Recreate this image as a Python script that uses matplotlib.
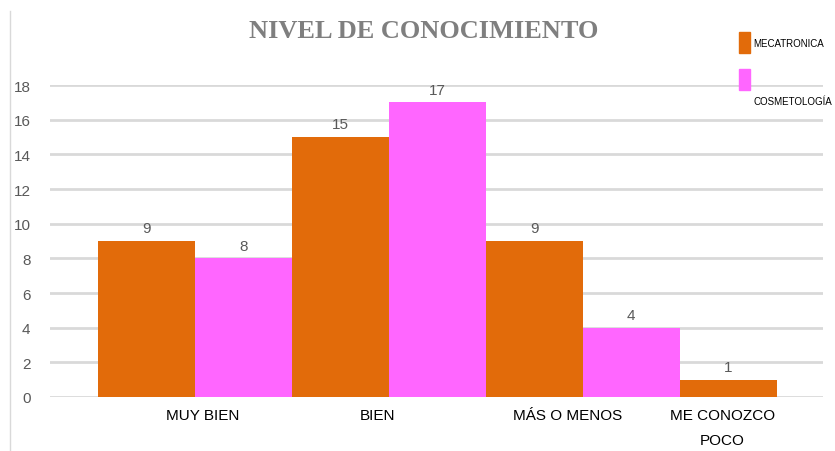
import numpy as np
import matplotlib
matplotlib.use("Agg")
import matplotlib.pyplot as plt
from matplotlib.patches import Rectangle
from matplotlib.lines import Line2D

categories = ["MUY BIEN", "BIEN", "MÁS O MENOS", "ME CONOZCO\nPOCO"]
mecatronica = [9, 15, 9, 1]
cosmetologia = [8, 17, 4, 0]
series_names = ["MECATRONICA", "COSMETOLOGÍA"]
yticks = list(range(0, 19, 2))

orange = "#E26B0A"
pink = "#FF66FF"
txt = "#595959"
font = ["Liberation Sans Narrow", "Liberation Sans", "DejaVu Sans"]

fig = plt.figure(figsize=(8.35, 4.52), dpi=100)
ax = fig.add_axes([50/835, (452-398)/452, (823-50)/835, (398-86)/452])

x = np.arange(len(categories))
w = 0.5
b1 = ax.bar(x - w/2, mecatronica, w, color=orange, zorder=3)
b2 = ax.bar(x + w/2, cosmetologia, w, color=pink, zorder=3)

for bars, vals in ((b1, mecatronica), (b2, cosmetologia)):
    for r, v in zip(bars, vals):
        if v > 0:
            ax.annotate(str(v), (r.get_x() + r.get_width()/2, v), xytext=(0, 4),
                        textcoords="offset points", ha="center", va="bottom",
                        fontsize=11, color=txt, family=font)

ax.set_xlim(-0.75, 3.24)
ax.set_ylim(0, 18)
ax.set_yticks(yticks)
ax.yaxis.grid(True, color="#D9D9D9", linewidth=2, zorder=0)
ax.set_axisbelow(True)
for s in ax.spines.values():
    s.set_visible(False)
ax.tick_params(axis="both", length=0, labelsize=11, labelcolor=txt, pad=14)
for lab in ax.get_yticklabels():
    lab.set_family(font)

offsets = [0.04, -0.06, -0.08, -0.28]
ax.set_xticks(x + np.array(offsets))
ax.set_xticklabels(categories, family=font, fontsize=11, color="black", linespacing=2.0)
ax.tick_params(axis="x", pad=8, labelcolor="black")

fig.text(424/835, 1 - 32/452, "NIVEL DE CONOCIMIENTO", ha="center", va="center",
         fontsize=19, fontweight="bold", color="#7F7F7F",
         family=["Liberation Serif", "DejaVu Serif"])

# legend drawn manually
fig.add_artist(Rectangle((739/835, 1 - 54/452), 11/835, 21/452, color=orange,
                         transform=fig.transFigure))
fig.add_artist(Rectangle((739/835, 1 - 91/452), 11/835, 21/452, color=pink,
                         transform=fig.transFigure))
fig.text(753/835, 1 - 44/452, series_names[0], ha="left", va="center",
         fontsize=7, color="black", family=font)
fig.text(753/835, 1 - 102/452, series_names[1], ha="left", va="center",
         fontsize=7, color="black", family=font)

fig.add_artist(Line2D([10/835, 10/835], [0, 1 - 12/452], color="#D9D9D9",
                      linewidth=1, transform=fig.transFigure))

fig.savefig("out.png", dpi=100)
